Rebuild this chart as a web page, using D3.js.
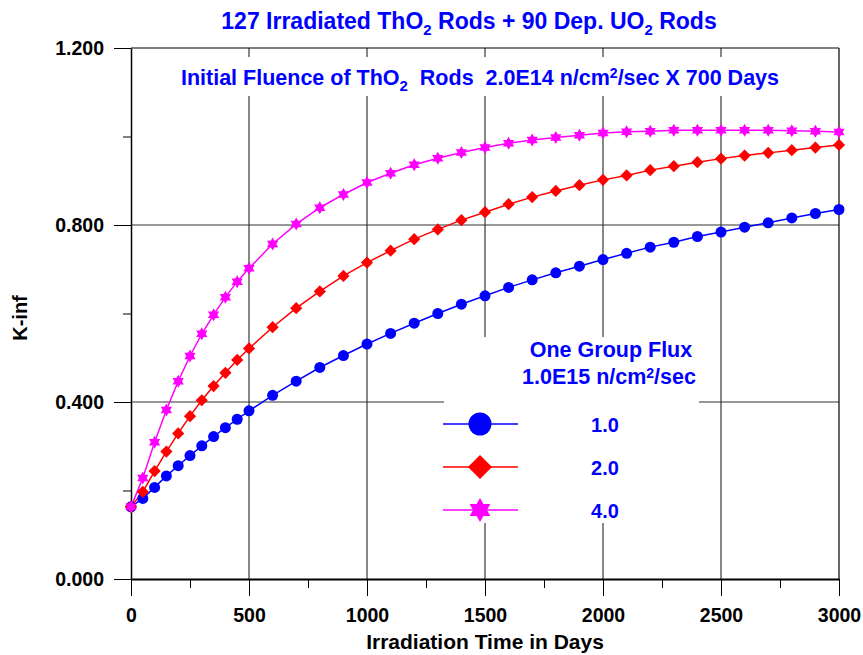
<!DOCTYPE html>
<html>
<head>
<meta charset="utf-8">
<script src="https://cdn.jsdelivr.net/npm/d3@7"></script>
<style>
  body { margin: 0; background: #fff; }
  svg text { font-family: "Liberation Sans", Arial, Helvetica, sans-serif; font-weight: bold; }
</style>
</head>
<body>
<div id="chart"></div>
<script>
// irradiation time (days)
const days = [0, 50, 100, 150, 200, 250, 300, 350, 400, 450, 500,
  600, 700, 800, 900, 1000, 1100, 1200, 1300, 1400, 1500, 1600, 1700, 1800,
  1900, 2000, 2100, 2200, 2300, 2400, 2500, 2600, 2700, 2800, 2900, 3000];

// K-inf for one group flux 1.0, 2.0, 4.0 (x 1.0E15 n/cm2/sec)
const kinfFlux1 = [0.163, 0.182, 0.207, 0.233, 0.256, 0.279, 0.301, 0.322, 0.342, 0.361, 0.380,
  0.415, 0.447, 0.478, 0.505, 0.531, 0.555, 0.578, 0.600, 0.621, 0.640, 0.659, 0.676, 0.692,
  0.707, 0.722, 0.736, 0.750, 0.761, 0.774, 0.784, 0.795, 0.805, 0.816, 0.826, 0.835];
const kinfFlux2 = [0.163, 0.197, 0.244, 0.288, 0.329, 0.368, 0.404, 0.436, 0.466, 0.495, 0.521,
  0.569, 0.612, 0.650, 0.685, 0.715, 0.742, 0.768, 0.790, 0.811, 0.829, 0.847, 0.863, 0.877,
  0.890, 0.902, 0.912, 0.924, 0.933, 0.942, 0.950, 0.957, 0.963, 0.969, 0.975, 0.981];
const kinfFlux4 = [0.163, 0.228, 0.309, 0.382, 0.447, 0.504, 0.554, 0.597, 0.637, 0.672, 0.702,
  0.757, 0.802, 0.839, 0.869, 0.896, 0.917, 0.936, 0.951, 0.964, 0.975, 0.985, 0.992, 0.998,
  1.003, 1.008, 1.011, 1.012, 1.014, 1.014, 1.014, 1.014, 1.014, 1.013, 1.012, 1.010];

const fluxLabels = ["1.0", "2.0", "4.0"];
const xMajorTicks = [0, 500, 1000, 1500, 2000, 2500, 3000];
const xMinorTicks = [250, 750, 1250, 1750, 2250, 2750];
const yMajorTicks = [0, 0.4, 0.8, 1.2];
const yMinorTicks = [0.2, 0.6, 1.0];

const W = 863, H = 655;
const blue = "#0000ff";

// six pointed star (hexagram), size = outer radius squared
const hexagram = {
  draw(context, size) {
    const R = Math.sqrt(size), r = R / Math.sqrt(3);
    for (let i = 0; i < 12; i++) {
      const a = -Math.PI / 2 + i * Math.PI / 6;
      const rad = i % 2 === 0 ? R : r;
      const px = rad * Math.cos(a), py = rad * Math.sin(a);
      if (i === 0) context.moveTo(px, py); else context.lineTo(px, py);
    }
    context.closePath();
  }
};

const series = [
  { label: fluxLabels[0], values: kinfFlux1, color: "#0000ff", type: d3.symbolCircle, size: Math.PI * 5.5 * 5.5, legendSize: Math.PI * 11.5 * 11.5 },
  { label: fluxLabels[1], values: kinfFlux2, color: "#ff0000", type: d3.symbolDiamond2, size: 95, legendSize: 370 },
  { label: fluxLabels[2], values: kinfFlux4, color: "#ff00ff", type: hexagram, size: 6.5 * 6.5, legendSize: 12 * 12 }
];

const svg = d3.select("#chart").append("svg")
  .attr("width", W)
  .attr("height", H);

const x = d3.scaleLinear().domain([0, 3000]).range([131, 839]);
const y = d3.scaleLinear().domain([0, 1.2]).range([579, 48]);

// grid lines
svg.append("g").selectAll("line")
  .data(xMajorTicks.slice(1, -1))
  .join("line")
  .attr("x1", d => x(d)).attr("x2", d => x(d))
  .attr("y1", y(1.2)).attr("y2", y(0))
  .attr("stroke", "#111").attr("stroke-width", 1);

svg.append("g").selectAll("line")
  .data([0.4, 0.8])
  .join("line")
  .attr("x1", x(0)).attr("x2", x(3000))
  .attr("y1", d => y(d)).attr("y2", d => y(d))
  .attr("stroke", "#333").attr("stroke-width", 1);

// white boxes behind the text blocks
svg.append("rect").attr("x", 164).attr("y", 57).attr("width", 630).attr("height", 39).attr("fill", "#fff");
svg.append("rect").attr("x", 444).attr("y", 337).attr("width", 255).attr("height", 186).attr("fill", "#fff");

// frame
svg.append("line").attr("x1", x(0)).attr("x2", x(3000)).attr("y1", y(1.2)).attr("y2", y(1.2))
  .attr("stroke", "#000").attr("stroke-width", 1.2);
svg.append("line").attr("x1", x(3000)).attr("x2", x(3000)).attr("y1", y(1.2)).attr("y2", y(0))
  .attr("stroke", "#000").attr("stroke-width", 1.2);

// axes
const xAxis = svg.append("g")
  .attr("transform", `translate(0,${y(0)})`)
  .call(d3.axisBottom(x).tickValues(xMajorTicks).tickSize(17).tickSizeOuter(0).tickPadding(12).tickFormat(d3.format("d")));
svg.append("g")
  .attr("transform", `translate(0,${y(0)})`)
  .call(d3.axisBottom(x).tickValues(xMinorTicks).tickSize(9).tickSizeOuter(0).tickFormat(""))
  .select(".domain").remove();
xAxis.select(".domain").attr("stroke-width", 2);

const yAxis = svg.append("g")
  .attr("transform", `translate(${x(0)},0)`)
  .call(d3.axisLeft(y).tickValues(yMajorTicks).tickSize(17).tickSizeOuter(0).tickPadding(10).tickFormat(d3.format(".3f")));
svg.append("g")
  .attr("transform", `translate(${x(0)},0)`)
  .call(d3.axisLeft(y).tickValues(yMinorTicks).tickSize(8).tickSizeOuter(0).tickFormat(""))
  .select(".domain").remove();
yAxis.select(".domain").attr("stroke-width", 1.5);

svg.selectAll(".tick text")
  .attr("font-size", 19.5)
  .attr("font-family", "Liberation Sans, Arial, sans-serif")
  .attr("font-weight", "bold")
  .attr("fill", "#000");
svg.selectAll(".tick line").attr("stroke", "#000");

// curves
const line = d3.line()
  .x((d, i) => x(days[i]))
  .y(d => y(d));

series.forEach(s => {
  svg.append("path")
    .datum(s.values)
    .attr("fill", "none")
    .attr("stroke", s.color)
    .attr("stroke-width", 1.5)
    .attr("d", line);
});

series.forEach(s => {
  svg.append("g").selectAll("path")
    .data(s.values)
    .join("path")
    .attr("transform", (d, i) => `translate(${x(days[i])},${y(d)})`)
    .attr("d", d3.symbol().type(s.type).size(s.size))
    .attr("fill", s.color);
});

// title
const title = svg.append("text")
  .attr("x", 469).attr("y", 29)
  .attr("text-anchor", "middle")
  .attr("font-size", 23)
  .attr("fill", blue);
title.append("tspan").text("127 Irradiated ThO");
title.append("tspan").attr("font-size", 15).attr("dy", 6).text("2");
title.append("tspan").attr("dy", -6).text(" Rods + 90 Dep. UO");
title.append("tspan").attr("font-size", 15).attr("dy", 6).text("2");
title.append("tspan").attr("dy", -6).text(" Rods");

const note = svg.append("text")
  .attr("x", 480).attr("y", 85)
  .attr("text-anchor", "middle")
  .attr("font-size", 21.5)
  .attr("fill", blue)
  .attr("xml:space", "preserve");
note.append("tspan").text("Initial Fluence of ThO");
note.append("tspan").attr("font-size", 15).attr("dy", 6).text("2");
note.append("tspan").attr("dy", -6).text("  Rods  2.0E14 n/cm");
note.append("tspan").attr("font-size", 14).attr("dy", -7).text("2");
note.append("tspan").attr("dy", 7).text("/sec X 700 Days");

// axis titles
svg.append("text")
  .attr("x", 485).attr("y", 649)
  .attr("text-anchor", "middle")
  .attr("font-size", 21)
  .text("Irradiation Time in Days");

svg.append("text")
  .attr("transform", "translate(27,318) rotate(-90)")
  .attr("text-anchor", "middle")
  .attr("font-size", 20)
  .text("K-inf");

// legend
const legend = svg.append("g");
legend.append("text")
  .attr("x", 611).attr("y", 357)
  .attr("text-anchor", "middle")
  .attr("font-size", 21.5)
  .attr("fill", blue)
  .text("One Group Flux");
const lt2 = legend.append("text")
  .attr("x", 609).attr("y", 384)
  .attr("text-anchor", "middle")
  .attr("font-size", 21.5)
  .attr("fill", blue);
lt2.append("tspan").text("1.0E15 n/cm");
lt2.append("tspan").attr("font-size", 14).attr("dy", -6).text("2");
lt2.append("tspan").attr("dy", 6).text("/sec");

const rows = legend.selectAll(".legend-item")
  .data(series)
  .join("g")
  .attr("class", "legend-item")
  .attr("transform", (d, i) => `translate(0,${424 + i * 43})`);
rows.append("line")
  .attr("x1", 443).attr("x2", 518)
  .attr("stroke", d => d.color)
  .attr("stroke-width", 1.5);
rows.append("path")
  .attr("transform", "translate(480,0)")
  .attr("d", d => d3.symbol().type(d.type).size(d.legendSize)())
  .attr("fill", d => d.color);
rows.append("text")
  .attr("x", 605).attr("y", 8)
  .attr("text-anchor", "middle")
  .attr("font-size", 20)
  .attr("fill", blue)
  .text(d => d.label);
</script>
</body>
</html>
